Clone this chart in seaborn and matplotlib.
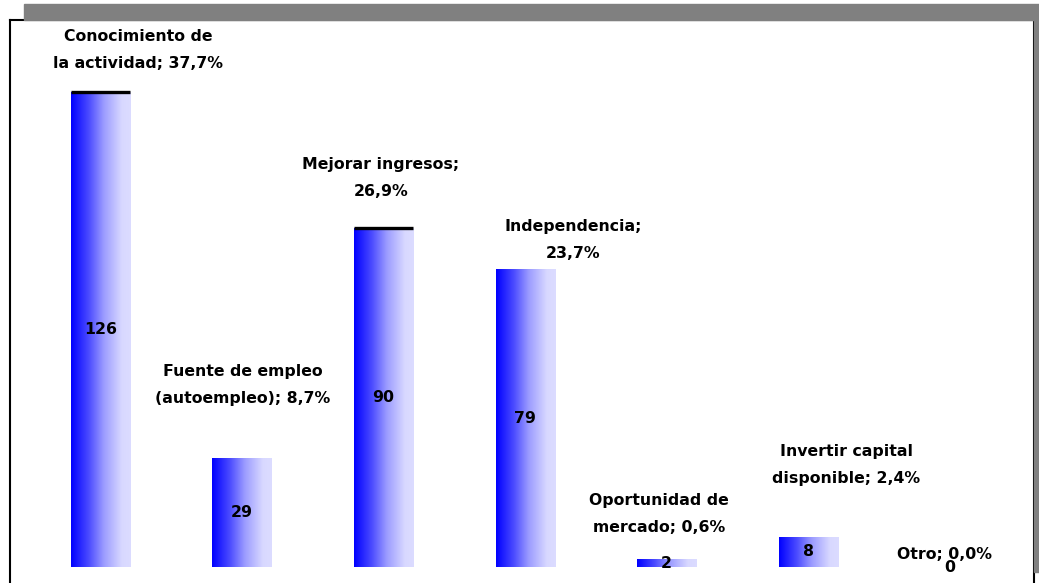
import numpy as np
import pandas as pd
import seaborn as sns
import matplotlib.pyplot as plt
from matplotlib.patches import Rectangle
from matplotlib.colors import LinearSegmentedColormap

# Data
categories = ["Conocimiento de la actividad", "Fuente de empleo (autoempleo)",
              "Mejorar ingresos", "Independencia", "Oportunidad de mercado",
              "Invertir capital disponible", "Otro"]
counts = [126, 29, 90, 79, 2, 8, 0]
percents = ["37,7%", "8,7%", "26,9%", "23,7%", "0,6%", "2,4%", "0,0%"]
label_text = ["Conocimiento de\nla actividad; 37,7%",
              "Fuente de empleo\n(autoempleo); 8,7%",
              "Mejorar ingresos;\n26,9%",
              "Independencia;\n23,7%",
              "Oportunidad de\nmercado; 0,6%",
              "Invertir capital\ndisponible; 2,4%",
              "Otro; 0,0%"]

# Label anchors (data coords), placed by hand like in the original sheet
label_x = [0.265, 1.007, 1.982, 3.339, 3.947, 5.269, 5.968]
label_y = [137.1, 48.3, 103.2, 86.7, 14.1, 27.1, 3.2]
capped = [True, False, True, False, False, False, False]

GRAY = "#808080"
FONT = ["DejaVu Sans", "Liberation Sans"]
FS = 11.3

sns.set_style("white")
plt.rcParams['font.family'] = FONT
plt.rcParams['text.color'] = "black"

df = pd.DataFrame({"cat": categories, "n": counts})

fig = plt.figure(figsize=(10.39, 5.83), dpi=100, facecolor="white")
W, H = 1039, 583

# gray shadow behind the frame
fig.patches.append(Rectangle((24 / W, 1 - 20 / H), 1, 16 / H, transform=fig.transFigure,
                             color=GRAY, zorder=0))
fig.patches.append(Rectangle((1034 / W, 1 - 572 / H), 6 / W, 556 / H, transform=fig.transFigure,
                             color=GRAY, zorder=0))

ax = fig.add_axes([9.5 / W, 0, (1034 - 9.5) / W, 1 - 20 / H])
sns.barplot(data=df, x="cat", y="n", order=categories, width=0.417, ax=ax,
            color="blue", errorbar=None)

# blue -> lavender, left to right
grad = LinearSegmentedColormap.from_list(
    "bar", [(0, "#0000FF"), (0.3, "#4C4CFF"), (0.55, "#9C9CFF"),
            (0.85, "#D8D8FF"), (1, "#DCDCFF")])
img = grad(np.linspace(0, 1, 256))[None, :, :]

for i, p in enumerate(ax.patches):
    x0, w, h = p.get_x(), p.get_width(), p.get_height()
    p.set_facecolor("none")
    p.set_edgecolor("none")
    if h > 0:
        im = ax.imshow(img, extent=[x0, x0 + w, 0, h], aspect="auto", zorder=2,
                       interpolation="bilinear")
        im.set_clip_path(p)
    if capped[i]:
        ax.hlines(h, x0, x0 + w, colors="black", linewidth=2.4, zorder=3)
    # value inside the bar
    ax.text(x0 + w / 2, h / 2, str(counts[i]), ha="center", va="center",
            fontsize=FS, fontweight="bold", color="black", zorder=4)

for i in range(len(categories)):
    ax.text(label_x[i], label_y[i], label_text[i], ha="center", va="center",
            fontsize=FS, fontweight="bold", linespacing=1.95, color="black", zorder=4)

ax.set_xlim(-0.643, 6.597)
ax.set_ylim(-4.24, 145.1)
ax.set_xticks([])
ax.set_yticks([])
ax.set_xlabel("")
ax.set_ylabel("")
for s in ["left", "top", "right"]:
    ax.spines[s].set_visible(True)
    ax.spines[s].set_color("black")
    ax.spines[s].set_linewidth(1.5)
ax.spines["bottom"].set_visible(False)

fig.savefig("out.png", dpi=100, facecolor="white")
